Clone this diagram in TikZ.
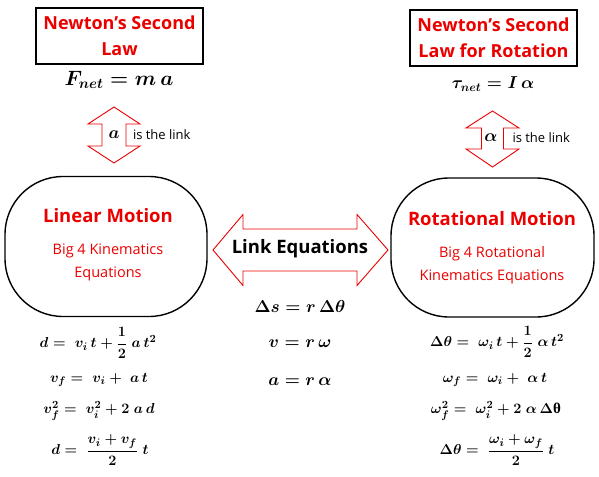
\documentclass[tikz,border=0pt]{standalone}
\usepackage{amsmath,bm}
\usepackage{fontspec}
\newfontfamily\tf{Open Sans}
\newfontfamily\gk{Liberation Serif}
\definecolor{myred}{RGB}{235,0,0}
\begin{document}
\begin{tikzpicture}[x=1pt,y=-1pt,
  titlebox/.style={draw=black,line width=1.6pt,minimum width=167pt,minimum height=56pt,align=center,text=myred,font=\tf\bfseries\fontsize{18}{26}\selectfont,inner sep=0pt},
  motion/.style={draw=black,line width=1.4pt,rounded corners=58pt,minimum width=202pt,minimum height=140pt},
  bigtitle/.style={text=myred,font=\tf\bfseries\fontsize{18.5}{20}\selectfont},
  subtxt/.style={text=myred,align=center,font=\tf\fontsize{14.5}{23.5}\selectfont},
  blockarrow/.style={draw=myred,line width=0.9pt,fill=white},
  bigeq/.style={font=\fontsize{18.5}{22}\selectfont\boldmath},
  smalleq/.style={font=\fontsize{15}{17}\selectfont\boldmath},
  linktxt/.style={font=\tf\fontsize{13}{15}\selectfont,anchor=west}
]
\useasboundingbox (0,0) rectangle (599,476);

% Titles
\node[titlebox] (nsl) at (119.5,36) {Newton’s Second\\Law};
\node[titlebox] (nslr) at (493.5,38) {Newton’s Second\\Law for Rotation};
\node[bigeq,font=\fontsize{19.5}{22}\selectfont\boldmath] (fnet) at (119,80) {$F_{net} = m\,a$};
\node[bigeq,font=\fontsize{18.5}{22}\selectfont\boldmath] (tnet) at (493,84) {$\tau_{net} = I\,\alpha$};

% Vertical block arrows
\draw[blockarrow] (114,107) -- (140,124) -- (126,124) -- (126,146) -- (140,146) -- (114,163) -- (88,146) -- (102,146) -- (102,124) -- (88,124) -- cycle;
\node[bigeq] (la) at (114,135) {$a$};
\node[linktxt] (llink) at (129.5,135) {is the link};

\draw[blockarrow] (492.5,111) -- (519,128) -- (503.5,128) -- (503.5,149) -- (519,149) -- (492.5,167) -- (466,149) -- (481.5,149) -- (481.5,128) -- (466,128) -- cycle;
\node[bigeq] (ra) at (491,138) {$\alpha$};
\node[linktxt] (rlink) at (509,138) {is the link};

% Motion boxes
\node[motion] (lin) at (106,246.5) {};
\node[bigtitle] (lint) at (108,216) {Linear Motion};
\node[subtxt] (lins) at (108,262.5) {Big 4 Kinematics\\Equations};

\node[motion,minimum width=203pt,minimum height=139pt] (rot) at (492.5,247.5) {};
\node[bigtitle] (rott) at (492,219) {Rotational Motion};
\node[subtxt] (rots) at (492,265) {Big 4 Rotational\\Kinematics Equations};

% Horizontal double arrow
\draw[blockarrow] (213,250) -- (243,214.5) -- (243,229) -- (357,229) -- (357,214.5) -- (388,250) -- (357,285.5) -- (357,271) -- (243,271) -- (243,285.5) -- cycle;
\node[font=\tf\bfseries\fontsize{18.5}{20}\selectfont] (link) at (300,249) {Link Equations};

% Link equations
\node[bigeq,font=\fontsize{18}{22}\selectfont\boldmath] (e1) at (300,306) {$\Delta s = r\,\Delta\theta$};
\node[bigeq] (e2) at (300,344) {$v = r\,\omega$};
\node[bigeq] (e3) at (300,382) {$a = r\,\alpha$};

% Linear kinematics
\node[smalleq] (l1) at (98,343) {$d =\; v_i\,t + \dfrac{1}{2}\;a\,t^2$};
\node[smalleq] (l2) at (99,380) {$v_f =\; v_i +\; a\,t$};
\node[smalleq] (l3) at (99,411) {$v_f^2 =\; v_i^2 + 2\;a\,d$};
\node[smalleq] (l4) at (100,450) {$d =\; \dfrac{v_i + v_f}{2}\;t$};

% Rotational kinematics
\node[smalleq] (r1) at (497,342) {$\Delta\theta =\; \omega_i\,t + \dfrac{1}{2}\;\alpha\,t^2$};
\node[smalleq] (r2) at (495,380) {$\omega_f =\; \omega_i +\; \alpha\,t$};
\node[smalleq] (r3) at (496,411) {$\omega_f^2 =\; \omega_i^2 + 2\;\alpha\,\Delta\text{\gk\bfseries θ}$};
\node[smalleq] (r4) at (497,450) {$\Delta\theta =\; \dfrac{\omega_i + \omega_f}{2}\;t$};
\end{tikzpicture}
\end{document}
